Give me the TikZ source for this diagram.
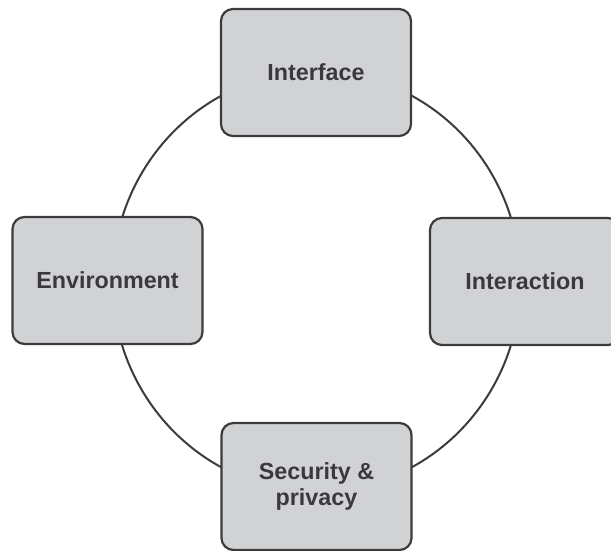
\documentclass[tikz,border=0pt]{standalone}
\usepackage{fontspec}
\setmainfont{Liberation Sans}
\definecolor{boxfill}{HTML}{D0D2D4}
\definecolor{boxline}{HTML}{3C3C3E}
\definecolor{labeltext}{HTML}{3A3A3C}
\begin{document}
\begin{tikzpicture}[x=1pt,y=-1pt,
  topic/.style={draw=boxline, line width=2.2pt, fill=boxfill, rounded corners=12pt,
    minimum width=190pt, minimum height=127pt, inner sep=0pt, outer sep=0pt,
    align=center, text=labeltext,
    font=\fontsize{23.3}{26}\selectfont\bfseries},
  ring/.style={draw=boxline, line width=2pt}]
  \useasboundingbox (0,0) rectangle (611,551);
  % the cycle joining the four topics
  \coordinate (centre) at (316.5,281.5);
  \draw[ring] (centre) ellipse [x radius=204pt, y radius=210pt];
  % topics
  \node[topic] (interface)   at (316,72.5)    {Interface};
  \node[topic] (environment) at (107.5,280.5) {Environment};
  \node[topic] (interaction) at (525,281.5)   {Interaction};
  \node[topic] (security)    at (316.5,486.5) {Security \&\\privacy};
\end{tikzpicture}
\end{document}
